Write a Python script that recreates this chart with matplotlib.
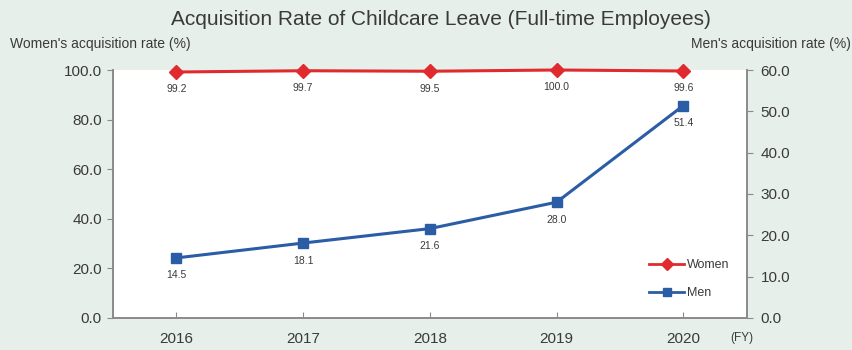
import matplotlib
matplotlib.use("Agg")
import matplotlib.pyplot as plt
from matplotlib.lines import Line2D

years = ["2016", "2017", "2018", "2019", "2020"]
women = [99.2, 99.7, 99.5, 100.0, 99.6]
men = [14.5, 18.1, 21.6, 28.0, 51.4]
left_ticks = [0, 20, 40, 60, 80, 100]
right_ticks = [0, 10, 20, 30, 40, 50, 60]

BG = "#e7efea"
RED = "#e02a2e"
BLUE = "#2b5ca6"
TXT = "#3a3a3a"
SPINE = "#8a8a8a"

plt.rcParams["font.family"] = ["Liberation Sans", "DejaVu Sans"]

fig = plt.figure(figsize=(8.53, 3.5), dpi=100, facecolor=BG)
ax = fig.add_axes([0.1325, 0.092, 0.743, 0.708])
ax.set_facecolor("white")
ax2 = ax.twinx()

x = list(range(len(years)))
ax.plot(x, women, color=RED, lw=2.2, marker="D", ms=7, clip_on=False, zorder=5)
ax2.plot(x, men, color=BLUE, lw=2.2, marker="s", ms=7, clip_on=False, zorder=5)

for xi, v in zip(x, women):
    ax.annotate(f"{v:.1f}", (xi, v), xytext=(0, -9), textcoords="offset points",
                ha="center", va="top", fontsize=7.5, color=TXT)
for xi, v in zip(x, men):
    ax2.annotate(f"{v:.1f}", (xi, v), xytext=(0, -9), textcoords="offset points",
                 ha="center", va="top", fontsize=7.5, color=TXT)

ax.set_xlim(-0.5, 4.5)
ax.set_ylim(0, 100)
ax2.set_ylim(0, 60)
ax.set_xticks(x)
ax.set_xticklabels(years)
ax.set_yticks(left_ticks)
ax.set_yticklabels([f"{v:.1f}" for v in left_ticks])
ax2.set_yticks(right_ticks)
ax2.set_yticklabels([f"{v:.1f}" for v in right_ticks])

ax.tick_params(axis="x", direction="in", length=4, colors=SPINE, labelcolor=TXT,
               labelsize=11, pad=10)
ax.tick_params(axis="y", direction="out", length=4, colors=SPINE, labelcolor=TXT,
               labelsize=11, pad=4)
ax2.tick_params(axis="y", direction="out", length=4, colors=SPINE, labelcolor=TXT,
                labelsize=11, pad=6)

for a in (ax, ax2):
    a.spines["top"].set_visible(False)
    for s in ("left", "right", "bottom"):
        a.spines[s].set_color(SPINE)
        a.spines[s].set_linewidth(1.2)

handles = [
    Line2D([], [], color=RED, lw=2, marker="D", ms=6),
    Line2D([], [], color=BLUE, lw=2, marker="s", ms=6),
]
leg = ax2.legend(handles, ["Women", "Men"], loc="lower right",
                 bbox_to_anchor=(0.99, 0.03), frameon=False, fontsize=9,
                 handlelength=2.8, handletextpad=0.2, labelcolor=TXT,
                 labelspacing=1.25)
leg.set_zorder(10)

fig.text(0.517, 0.943, "Acquisition Rate of Childcare Leave (Full-time Employees)",
         ha="center", va="center", fontsize=15, color=TXT)
fig.text(0.012, 0.874, "Women's acquisition rate (%)", ha="left", va="center",
         fontsize=10, color=TXT)
fig.text(0.997, 0.874, "Men's acquisition rate (%)", ha="right", va="center",
         fontsize=10, color=TXT)
fig.text(0.856, 0.034, "(FY)", ha="left", va="center", fontsize=8.5, color=TXT)

fig.savefig("out.png", dpi=100, facecolor=BG)
